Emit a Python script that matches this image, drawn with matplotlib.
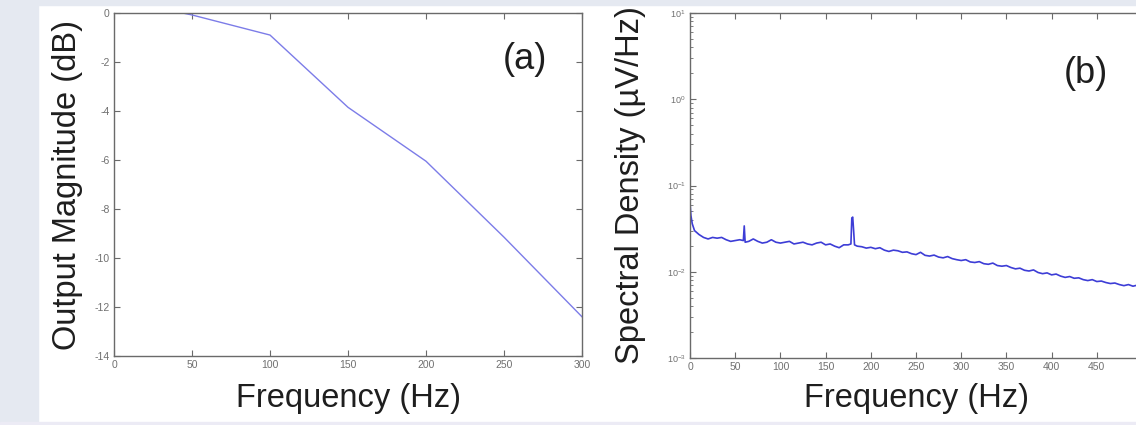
import matplotlib
matplotlib.use('Agg')
import matplotlib.pyplot as plt
from matplotlib.patches import Rectangle
from matplotlib.ticker import LogLocator

plt.rcParams['font.family'] = ['Liberation Sans', 'DejaVu Sans']
plt.rcParams['axes.unicode_minus'] = False

# (a) output magnitude vs frequency
freq_a = [44, 50, 100, 150, 200, 250, 300]
mag_a  = [0.0, -0.08, -0.9, -3.85, -6.05, -9.15, -12.4]

# (b) spectral density vs frequency
freq_b = [0, 1, 2.5, 5, 10, 15, 20, 25, 30, 35, 40, 45, 50, 55, 59, 60, 61,
          65, 70, 75, 80, 85, 90, 95, 100, 105, 110, 115, 120, 125, 130, 135,
          140, 145, 150, 155, 160, 165, 170, 175, 178, 179, 180, 181, 182,
          185, 190, 195, 200, 205, 210, 215, 220, 225, 230, 235, 240, 245,
          250, 255, 260, 265, 270, 275, 280, 285, 290, 295, 300, 305, 310,
          315, 320, 325, 330, 335, 340, 345, 350, 355, 360, 365, 370, 375,
          380, 385, 390, 395, 400, 405, 410, 415, 420, 425, 430, 435, 440,
          445, 450, 455, 460, 465, 470, 475, 480, 485, 490, 495, 500]
psd_b  = [0.063, 0.045, 0.036, 0.030, 0.027, 0.025, 0.024, 0.025, 0.0245,
          0.025, 0.0235, 0.0225, 0.023, 0.0235, 0.023, 0.034, 0.022,
          0.0225, 0.024, 0.0225, 0.0215, 0.022, 0.0235, 0.022, 0.0215,
          0.022, 0.0225, 0.021, 0.0215, 0.022, 0.021, 0.0205, 0.0215,
          0.022, 0.0205, 0.021, 0.0198, 0.019, 0.0205, 0.0205, 0.021,
          0.042, 0.043, 0.030, 0.0205, 0.0198, 0.0195, 0.0188, 0.0192,
          0.0185, 0.019, 0.0178, 0.0172, 0.0178, 0.0175, 0.0168, 0.017,
          0.0162, 0.0158, 0.0168, 0.0155, 0.0152, 0.0156, 0.0148, 0.0145,
          0.015, 0.0142, 0.0138, 0.0135, 0.0138, 0.013, 0.0128, 0.0131,
          0.0124, 0.0122, 0.0126, 0.0118, 0.0116, 0.0118, 0.0112, 0.0108,
          0.011, 0.0104, 0.0102, 0.0105, 0.0098, 0.0095, 0.0097, 0.0092,
          0.0094, 0.0089, 0.0086, 0.0088, 0.0084, 0.0085, 0.0081, 0.0079,
          0.0081, 0.0077, 0.0078, 0.0075, 0.0073, 0.0074, 0.0071, 0.0069,
          0.0071, 0.0068, 0.0070, 0.0067]

W, H = 1136, 425
fig = plt.figure(figsize=(W / 100, H / 100), dpi=100)
fig.patch.set_facecolor('white')

# page background strips round the white panel
bg = '#e5e9f1'
fig.patches.append(Rectangle((0, 0), 38 / W, 1, transform=fig.transFigure,
                             color=bg, zorder=0))
fig.patches.append(Rectangle((0, 1 - 5 / H), 1, 5 / H, transform=fig.transFigure,
                             color=bg, zorder=0))
fig.patches.append(Rectangle((0, 0), 1, 3 / H, transform=fig.transFigure,
                             color='#ecebf5', zorder=0))

spine_col = '#6a6a6a'
tick_col = '#707070'


def style(ax):
    for s in ax.spines.values():
        s.set_color(spine_col)
        s.set_linewidth(1.0)
    ax.tick_params(direction='in', top=True, right=True, length=4,
                   width=0.8, color=spine_col, labelsize=7.5,
                   labelcolor=tick_col, pad=3)
    ax.tick_params(which='minor', direction='in', length=2, width=0.6,
                   color=spine_col, top=False, right=True)


# panel (a)
ax1 = fig.add_axes([114 / W, 1 - 356 / H, 468 / W, 343 / H])
ax1.plot(freq_a, mag_a, color='#7c7ce8', lw=1.0)
ax1.set_xlim(0, 300)
ax1.set_ylim(-14, 0)
ax1.set_xticks(range(0, 301, 50))
ax1.set_yticks(range(-14, 1, 2))
style(ax1)
ax1.set_xlabel('Frequency (Hz)', fontsize=23.5, color='#1e1e1e')
ax1.set_ylabel('Output Magnitude (dB)', fontsize=23.5, color='#1e1e1e')
ax1.xaxis.set_label_coords(0.5, -0.078)
ax1.yaxis.set_label_coords(-0.066, 0.5)
ax1.text(0.878, 0.863, '(a)', transform=ax1.transAxes, fontsize=26,
         ha='center', va='center', color='#1e1e1e')

# panel (b)
ax2 = fig.add_axes([690 / W, 1 - 358 / H, 452 / W, 345 / H])
ax2.semilogy(freq_b, psd_b, color='#3d3dd6', lw=1.2)
ax2.set_xlim(0, 500)
ax2.set_ylim(1e-3, 1e1)
ax2.set_xticks(range(0, 451, 50))
ax2.set_yticks([1e-3, 1e-2, 1e-1, 1e0, 1e1])
ax2.yaxis.set_minor_locator(LogLocator(base=10, subs=range(2, 10), numticks=20))
style(ax2)
ax2.tick_params(axis='y', labelsize=6.5)
ax2.set_xlabel('Frequency (Hz)', fontsize=23.5, color='#1e1e1e')
ax2.set_ylabel('Spectral Density (\u00b5V/Hz)', fontsize=23.5, color='#1e1e1e')
ax2.xaxis.set_label_coords(0.5, -0.072)
ax2.yaxis.set_label_coords(-0.098, 0.5)
ax2.text(0.876, 0.826, '(b)', transform=ax2.transAxes, fontsize=26,
         ha='center', va='center', color='#1e1e1e')

fig.savefig('out.png', dpi=100)
